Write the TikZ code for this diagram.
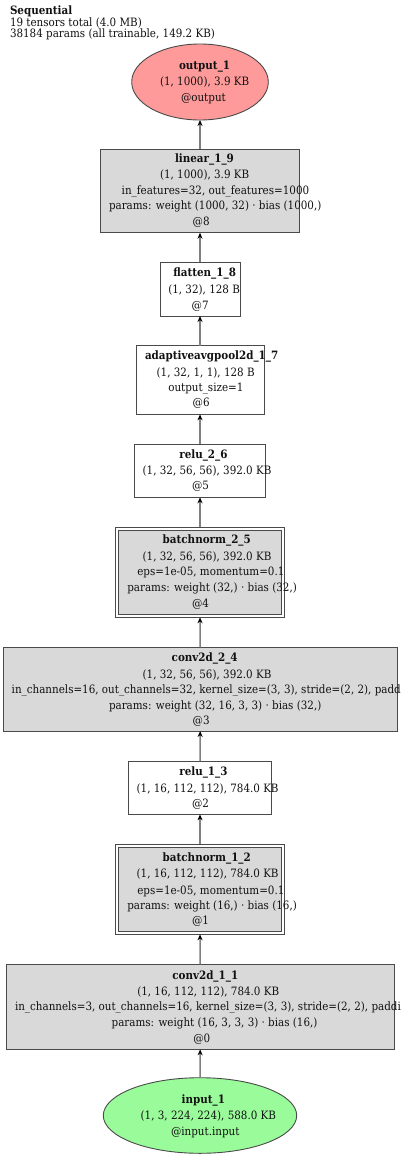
\documentclass[tikz,border=0pt]{standalone}
\usepackage{fontspec}
\setmainfont[FakeStretch=0.9]{DejaVu Serif}
\usetikzlibrary{arrows.meta,shapes.geometric}
\definecolor{boxgray}{HTML}{D9D9D9}
\definecolor{bordergray}{HTML}{4A4A4A}
\definecolor{edgegray}{HTML}{808080}
\definecolor{outred}{HTML}{FF9A9A}
\definecolor{ingreen}{HTML}{9AFB9A}
\definecolor{txt}{HTML}{111111}
\tikzset{
  lbl/.style={anchor=base west,inner sep=0pt,outer sep=0pt,font=\fontsize{11.5pt}{13pt}\selectfont,text=txt},
  hdr/.style={lbl,font=\fontsize{11.5pt}{13pt}\selectfont\bfseries},
  graybox/.style={draw=bordergray,fill=boxgray,line width=0.9pt,inner sep=0pt,outer sep=0pt},
  whitebox/.style={draw=bordergray,fill=white,line width=0.9pt,inner sep=0pt,outer sep=0pt},
  oval/.style={ellipse,draw=bordergray,line width=0.9pt,inner sep=0pt,outer sep=0pt},
  edge/.style={draw=edgegray,line width=1.5pt,-{Stealth[length=6pt,width=5pt,color=black]}}
}
\begin{document}
\begin{tikzpicture}[x=1pt,y=-1pt]
\clip (0,0) rectangle (400,1158);
\fill[white] (0,0) rectangle (400,1158);
% summary
\node[hdr] (seq) at (10,15) {Sequential};
\node[lbl] (seqa) at (10,26.5) {19 tensors total (4.0 MB)};
\node[lbl] (seqb) at (10,37.5) {38184 params (all trainable, 149.2 KB)};
% output
\node[oval,fill=outred,minimum width=136.6pt,minimum height=76pt] (out) at (200,82) {};
\node[hdr] (outa) at (179,69.7) {output\_1};
\node[lbl] (outb) at (160,85.3) {(1, 1000), 3.9 KB};
\node[lbl] (outc) at (181,101.3) {@output};
% linear
\node[graybox,minimum width=198.6pt,minimum height=83.7pt] (lin) at (200,190.85) {};
\node[hdr] (lina) at (175,162.3) {linear\_1\_9};
\node[lbl] (linb) at (160,178.7) {(1, 1000), 3.9 KB};
\node[lbl] (linc) at (121.7,194.7) {in\_features=32, out\_features=1000};
\node[lbl] (lind) at (109,210) {params: weight (1000, 32) · bias (1000,)};
\node[lbl] (line) at (192.7,225.7) {@8};
% flatten
\node[whitebox,minimum width=80pt,minimum height=53.7pt] (fla) at (200,289.15) {};
\node[hdr] (flaa) at (173.3,276.7) {flatten\_1\_8};
\node[lbl] (flab) at (168.3,293.3) {(1, 32), 128 B};
\node[lbl] (flac) at (191.7,309) {@7};
% adaptive pool
\node[whitebox,minimum width=128pt,minimum height=68.6pt] (pool) at (200,380) {};
\node[hdr] (poola) at (145,359) {adaptiveavgpool2d\_1\_7};
\node[lbl] (poolb) at (156.7,376.3) {(1, 32, 1, 1), 128 B};
\node[lbl] (poolc) at (168.3,391.7) {output\_size=1};
\node[lbl] (poold) at (192.7,406.3) {@6};
% relu 2
\node[whitebox,minimum width=131pt,minimum height=53.3pt] (relub) at (200,470.65) {};
\node[hdr] (reluba) at (179.3,458.3) {relu\_2\_6};
\node[lbl] (relubb) at (142.7,474.7) {(1, 32, 56, 56), 392.0 KB};
\node[lbl] (relubc) at (192,489.7) {@5};
% batchnorm 2
\node[whitebox,minimum width=169pt,minimum height=90.3pt] (bnb) at (200,572.15) {};
\node[graybox,minimum width=163pt,minimum height=84.3pt] (bnbin) at (200,572.15) {};
\node[hdr] (bnba) at (162.7,543.7) {batchnorm\_2\_5};
\node[lbl] (bnbb) at (142.7,560.3) {(1, 32, 56, 56), 392.0 KB};
\node[lbl] (bnbc) at (137.3,575.7) {eps=1e-05, momentum=0.1};
\node[lbl] (bnbd) at (127.3,591.3) {params: weight (32,) · bias (32,)};
\node[lbl] (bnbe) at (192,607) {@4};
% conv 2
\node[graybox,minimum width=393.7pt,minimum height=83.7pt] (convb) at (200.15,689.15) {};
\node[hdr] (convba) at (171.7,661.3) {conv2d\_2\_4};
\node[lbl] (convbb) at (142.7,678.3) {(1, 32, 56, 56), 392.0 KB};
\node[lbl] (convbc) at (11.7,693.3) {in\_channels=16, out\_channels=32, kernel\_size=(3, 3), stride=(2, 2), padding=(1, 1)};
\node[lbl] (convbd) at (109,709) {params: weight (32, 16, 3, 3) · bias (32,)};
\node[lbl] (convbe) at (192.7,724.7) {@3};
% relu 1
\node[whitebox,minimum width=143pt,minimum height=53.3pt] (relua) at (200,787.65) {};
\node[hdr] (reluaa) at (179.3,775) {relu\_1\_3};
\node[lbl] (reluab) at (136.7,792.3) {(1, 16, 112, 112), 784.0 KB};
\node[lbl] (reluac) at (192,807.7) {@2};
% batchnorm 1
\node[whitebox,minimum width=169pt,minimum height=90.3pt] (bna) at (200,889.15) {};
\node[graybox,minimum width=163pt,minimum height=84.3pt] (bnain) at (200,889.15) {};
\node[hdr] (bnaa) at (162.7,861.7) {batchnorm\_1\_2};
\node[lbl] (bnab) at (136.7,877.7) {(1, 16, 112, 112), 784.0 KB};
\node[lbl] (bnac) at (137.3,894) {eps=1e-05, momentum=0.1};
\node[lbl] (bnad) at (127.3,909.3) {params: weight (16,) · bias (16,)};
\node[lbl] (bnae) at (192,924.7) {@1};
% conv 1
\node[graybox,minimum width=388.3pt,minimum height=85pt] (conva) at (200.15,1006.8) {};
\node[hdr] (convaa) at (172.3,979) {conv2d\_1\_1};
\node[lbl] (convab) at (137.3,995) {(1, 16, 112, 112), 784.0 KB};
\node[lbl] (convac) at (15,1010.7) {in\_channels=3, out\_channels=16, kernel\_size=(3, 3), stride=(2, 2), padding=(1, 1)};
\node[lbl] (convad) at (111.7,1026.3) {params: weight (16, 3, 3, 3) · bias (16,)};
\node[lbl] (convae) at (193.3,1042.3) {@0};
% input
\node[oval,fill=ingreen,minimum width=193.4pt,minimum height=75.6pt] (inp) at (200,1115.5) {};
\node[hdr] (inpa) at (181.7,1103) {input\_1};
\node[lbl] (inpb) at (140.7,1119) {(1, 3, 224, 224), 588.0 KB};
\node[lbl] (inpc) at (171,1135) {@input.input};
% edges
\draw[edge] (inp.north) -- (conva.south);
\draw[edge] (conva.north) -- (bna.south);
\draw[edge] (bna.north) -- (relua.south);
\draw[edge] (relua.north) -- (convb.south);
\draw[edge] (convb.north) -- (bnb.south);
\draw[edge] (bnb.north) -- (relub.south);
\draw[edge] (relub.north) -- (pool.south);
\draw[edge] (pool.north) -- (fla.south);
\draw[edge] (fla.north) -- (lin.south);
\draw[edge] (lin.north) -- (out.south);
\end{tikzpicture}
\end{document}
